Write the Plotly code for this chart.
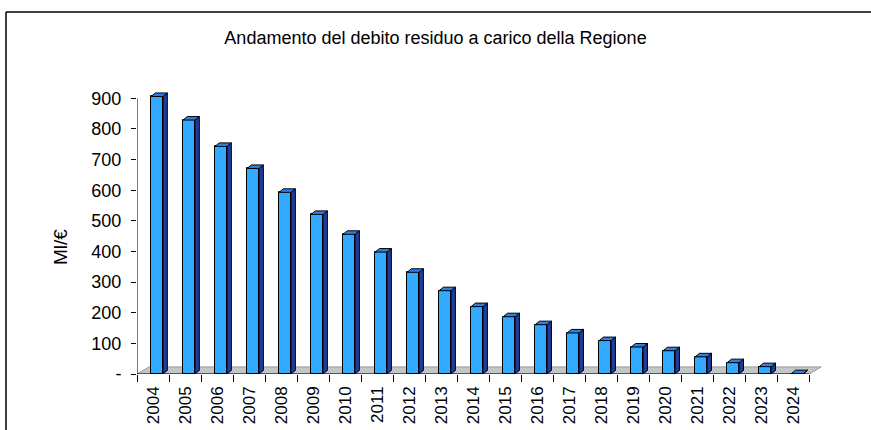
import plotly.graph_objects as go

# ================== Data ================== #
YEARS = ["2004", "2005", "2006", "2007", "2008", "2009", "2010", "2011", "2012", "2013",
         "2014", "2015", "2016", "2017", "2018", "2019", "2020", "2021", "2022", "2023", "2024"]
DEBT = [906, 829, 743, 671, 593, 521, 456, 398, 332, 272,
        220, 187, 161, 134, 109, 88, 76, 56, 37, 24, 1]
Y_TICKS = [0, 100, 200, 300, 400, 500, 600, 700, 800, 900]
Y_TICK_TEXT = ["-", "100", "200", "300", "400", "500", "600", "700", "800", "900"]

TITLE = "Andamento del debito residuo a carico della Regione"
Y_TITLE = "Ml/€"

# ================== Style ================== #
FONT = "Liberation Sans, Arial, sans-serif"
FRONT = "#33AAFF"
SIDE = "#1F3C9A"
TOP = "#2B80E6"
FLOOR = "#C4C6C6"

W, H = 871, 430
L, R, T, B = 137, 49, 83, 56
X_RANGE = [-0.5, 20.9]
Y_RANGE = [0, 950]

BAR_W = 0.375        # front face width (category units)
BAR_SHIFT = -0.0625  # left edge offset from category position
DEPTH_X = 0.135      # 3D depth, x units
DEPTH_Y = 11.5       # 3D depth, y units
FLOOR_X = 0.375
FLOOR_Y = 23

idx = list(range(len(YEARS)))


def px_x(p):
    return (p - L) / (W - L - R)


def px_y(p):
    return (H - B - p) / (H - T - B)


fig = go.Figure()

# front faces
fig.add_trace(go.Bar(
    x=idx, y=DEBT, width=BAR_W, offset=BAR_SHIFT,
    marker=dict(color=FRONT, line=dict(color="black", width=1)),
    cliponaxis=False, hoverinfo="skip", showlegend=False
))

# side and top faces of the 3D columns
side_x, side_y, top_x, top_y = [], [], [], []
for i, v in zip(idx, DEBT):
    xl = i + BAR_SHIFT
    xr = xl + BAR_W
    side_x += [xr, xr + DEPTH_X, xr + DEPTH_X, xr, xr, None]
    side_y += [0, DEPTH_Y, v + DEPTH_Y, v, 0, None]
    top_x += [xl, xr, xr + DEPTH_X, xl + DEPTH_X, xl, None]
    top_y += [v, v, v + DEPTH_Y, v + DEPTH_Y, v, None]

fig.add_trace(go.Scatter(
    x=side_x, y=side_y, mode="lines", fill="toself", fillcolor=SIDE,
    line=dict(color="black", width=1), hoverinfo="skip", showlegend=False
))
fig.add_trace(go.Scatter(
    x=top_x, y=top_y, mode="lines", fill="toself", fillcolor=TOP,
    line=dict(color="black", width=1), hoverinfo="skip", showlegend=False
))

x0, x1 = idx[0] - 0.5, idx[-1] + 0.5
frame = dict(color="black", width=1.5)
shapes = [
    # floor
    dict(type="path", xref="x", yref="y", layer="below",
         path=f"M {x0},0 L {x1},0 L {x1 + FLOOR_X},{FLOOR_Y} L {x0 + FLOOR_X},{FLOOR_Y} Z",
         fillcolor=FLOOR, line=dict(color="#9A9A9A", width=1)),
    # floor front edge
    dict(type="line", xref="x", yref="y", x0=x0, x1=x1, y0=0, y1=0,
         line=dict(color="black", width=1.2)),
    # value axis line
    dict(type="line", xref="x", yref="y", x0=x0, x1=x0, y0=0, y1=Y_TICKS[-1],
         line=dict(color="black", width=1)),
    # chart frame (top and left edges; the rest lies outside the picture)
    dict(type="line", xref="paper", yref="paper",
         x0=px_x(6), x1=px_x(W), y0=px_y(12), y1=px_y(12), line=frame),
    dict(type="line", xref="paper", yref="paper",
         x0=px_x(6), x1=px_x(6), y0=px_y(12), y1=px_y(H), line=frame),
]

fig.update_layout(
    width=W, height=H,
    margin=dict(l=L, r=R, t=T, b=B, autoexpand=False),
    paper_bgcolor="white", plot_bgcolor="white",
    font=dict(family=FONT, color="black"),
    title=dict(text=TITLE, x=0.5, xref="container", xanchor="center",
               y=1 - 38 / H, yref="container", yanchor="middle",
               font=dict(size=18, color="black")),
    shapes=shapes,
    annotations=[dict(text=Y_TITLE, xref="paper", yref="paper",
                      x=px_x(60), y=px_y(247), xanchor="center", yanchor="middle",
                      textangle=-90, showarrow=False, font=dict(size=19))],
    bargap=0,
)

fig.update_xaxes(
    range=X_RANGE, showgrid=False, zeroline=False, showline=False, automargin=False,
    tickvals=idx, ticktext=YEARS, tickangle=-90, ticks="",
    tickfont=dict(size=17), ticklabelstandoff=8,
    minor=dict(tickvals=[i - 0.5 for i in idx] + [idx[-1] + 0.5],
               ticks="outside", ticklen=7, tickcolor="black", tickwidth=1, showgrid=False),
)
fig.update_yaxes(
    range=Y_RANGE, showgrid=False, zeroline=False, showline=False, automargin=False,
    tickvals=Y_TICKS, ticktext=Y_TICK_TEXT, ticks="outside", ticklen=5,
    tickcolor="black", tickfont=dict(size=18), ticklabelstandoff=6,
)

fig.write_html("out.html", config={"displayModeBar": False},
               post_script="document.body.style.margin = '0';"
                           "document.documentElement.style.overflow = 'hidden';")
